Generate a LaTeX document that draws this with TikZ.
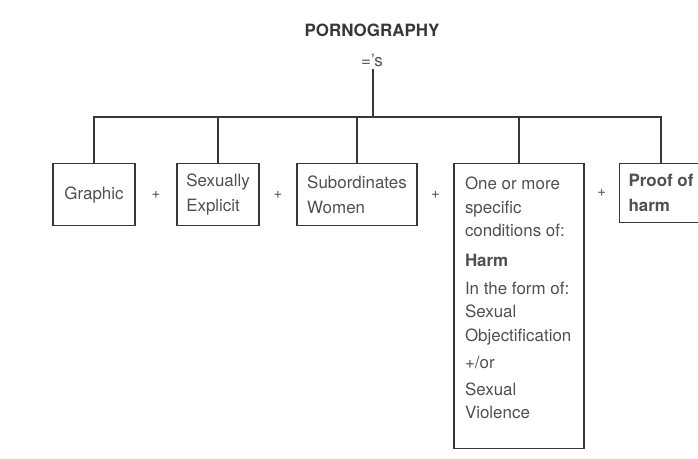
\documentclass[tikz,border=0pt]{standalone}
\usepackage{fontspec}
\setmainfont{TeX Gyre Heros}
\usetikzlibrary{positioning, calc}
\definecolor{inkgray}{RGB}{55, 55, 55}
\definecolor{textgray}{RGB}{80, 80, 80}

\begin{document}
\begin{tikzpicture}[
  x=1bp, y=-1bp,
  box/.style={rectangle, draw=inkgray, line width=1.3bp, text=textgray,
              inner xsep=9bp, inner ysep=0bp, minimum height=62bp,
              align=left, anchor=north, font=\fontsize{17}{25}\selectfont},
  link/.style={draw=inkgray, line width=1.3bp},
  plus/.style={text=textgray, inner sep=0pt, font=\fontsize{15}{15}\selectfont}
]
  \useasboundingbox (0,0) rectangle (698,459);
  \clip (0,0) rectangle (698,459);
  \node[text=inkgray, font=\bfseries\fontsize{17}{20}\selectfont] (title) at (372,30) {PORNOGRAPHY};
  \node[text=textgray, inner sep=3bp, font=\fontsize{17}{20}\selectfont] (eqs) at (372,60) {='s};
  \coordinate (hub) at (373,117);

  \node[box, minimum width=82bp, align=center] (graphic) at (94,163) {Graphic};
  \node[box, minimum width=82bp] (explicit) at (218,163) {Sexually\\Explicit};
  \node[box, minimum width=120bp] (subord) at (357,163) {Subordinates\\Women};
  \node[box, inner xsep=11bp, inner ysep=13.4bp, minimum height=0bp,
        font=\fontsize{17}{23.5}\selectfont] (harm) at (519,163)
    {\parbox[t][258bp][t]{108bp}{One or more\\ specific\\ conditions of:\\[7bp]
      \textbf{Harm}\\[4bp] In the form of:\\ Sexual\\ Objectification\\[4bp]
      +/or\\[3bp] Sexual\\ Violence}};
  \node[box, minimum width=80bp, minimum height=59bp] (proof) at (661,163) {\textbf{Proof of}\\\textbf{harm}};

  % plus signs between the boxes
  \node[plus] (plus1) at ($(graphic.east)!0.5!(explicit.west)$) {+};
  \node[plus] (plus2) at ($(explicit.east)!0.5!(subord.west)$) {+};
  \node[plus] (plus3) at ($(subord.east)!0.5!(subord.east -| harm.west)$) {+};
  \node[plus] (plus4) at ($(proof.west -| harm.east)!0.5!(proof.west)$) {+};

  % tree
  \draw[link] (eqs.south -| hub) -- (hub);
  \draw[link] (graphic.north) |- (hub) -| (proof.north);
  \foreach \n in {explicit, subord, harm}
    \draw[link] (\n.north |- hub) -- (\n.north);
\end{tikzpicture}
\end{document}
